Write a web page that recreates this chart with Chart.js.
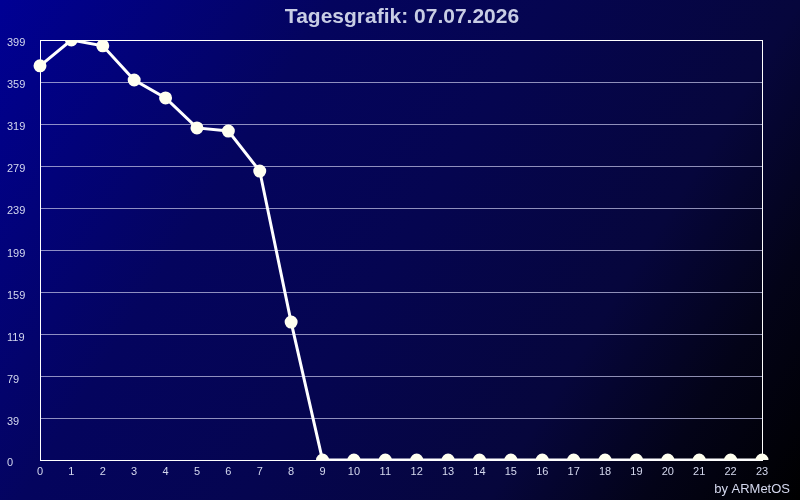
<!DOCTYPE html>
<html>
<head>
<meta charset="utf-8">
<script src="https://cdn.jsdelivr.net/npm/chart.js@4"></script>
<style>
html,body{margin:0;padding:0;background:#000;}
#wrap{width:800px;height:500px;}
</style>
</head>
<body>
<div id="wrap"><canvas id="c" width="800" height="500"></canvas></div>
<script>
/* Tagesgrafik: hourly values */
const hours = ["0","1","2","3","4","5","6","7","8","9","10","11","12","13","14","15","16","17","18","19","20","21","22","23"];
const values = [374.5, 399, 393.5, 361, 344, 315.5, 312.5, 274.5, 131, 0, 0, 0, 0, 0, 0, 0, 0, 0, 0, 0, 0, 0, 0, 0];
const yTicks = [0, 39, 79, 119, 159, 199, 239, 279, 319, 359, 399];
const titleText = "Tagesgrafik: 07.07.2026";
const footText = "by ARMetOS";

const FONT = "'Liberation Sans', Arial, sans-serif";
const LABEL = "#d4d8ee";

const bgPlugin = {
  id: "bg",
  beforeDraw(chart){
    const ctx = chart.ctx, w = chart.width, h = chart.height;
    const g = ctx.createLinearGradient(0, 0, w, h);
    g.addColorStop(0, "#000094");
    g.addColorStop(0.3, "#04045e");
    g.addColorStop(0.5, "#050550");
    g.addColorStop(0.72, "#06063c");
    g.addColorStop(0.86, "#030318");
    g.addColorStop(1, "#000000");
    ctx.save(); ctx.fillStyle = g; ctx.fillRect(0, 0, w, h); ctx.restore();
  },
  beforeDatasetsDraw(chart){
    const a = chart.chartArea, ctx = chart.ctx;
    ctx.save(); ctx.strokeStyle = "#ffffff"; ctx.lineWidth = 1;
    ctx.strokeRect(Math.round(a.left)+0.5, Math.round(a.top)+0.5, Math.round(a.right-a.left), Math.round(a.bottom-a.top));
    ctx.restore();
  },
  afterDraw(chart){
    const ctx = chart.ctx;
    ctx.save();
    // title, centred on the whole picture
    ctx.fillStyle = "#c8cde4"; ctx.font = "bold 21px " + FONT;
    ctx.textAlign = "center"; ctx.textBaseline = "middle";
    ctx.fillText(titleText, 402, 17);
    // credit line
    ctx.fillStyle = LABEL; ctx.font = "13px " + FONT;
    ctx.textAlign = "right";
    ctx.fillText(footText, 790, 489);
    ctx.restore();
  }
};

new Chart(document.getElementById("c"), {
  type: "line",
  data: {
    labels: hours,
    datasets: [{
      data: values,
      borderColor: "#ffffff",
      borderWidth: 3,
      pointBackgroundColor: "#fffff0",
      pointBorderColor: "#fffff0",
      pointRadius: 5,
      tension: 0
    }]
  },
  options: {
    responsive: false,
    animation: false,
    layout: { padding: { left: 7, right: 38, top: 40, bottom: 0 } },
    plugins: {
      legend: { display: false },
      tooltip: { enabled: false },
      title: { display: false }
    },
    scales: {
      x: {
        grid: { display: false, drawTicks: false },
        border: { display: false },
        ticks: { color: LABEL, font: { family: FONT, size: 11 }, padding: 5, maxRotation: 0, autoSkip: false },
        afterFit(s){ s.height = 40; }
      },
      y: {
        min: 0, max: 399,
        afterBuildTicks(s){ s.ticks = yTicks.map(v => ({ value: v })); },
        grid: { color: "rgba(190,190,225,0.75)", lineWidth: 1, drawTicks: false },
        border: { display: false },
        ticks: { color: LABEL, font: { family: FONT, size: 11 }, crossAlign: "far", padding: 4, labelOffset: 3 },
        afterFit(s){ s.width = 33; }
      }
    }
  },
  plugins: [bgPlugin]
});
</script>
</body>
</html>
